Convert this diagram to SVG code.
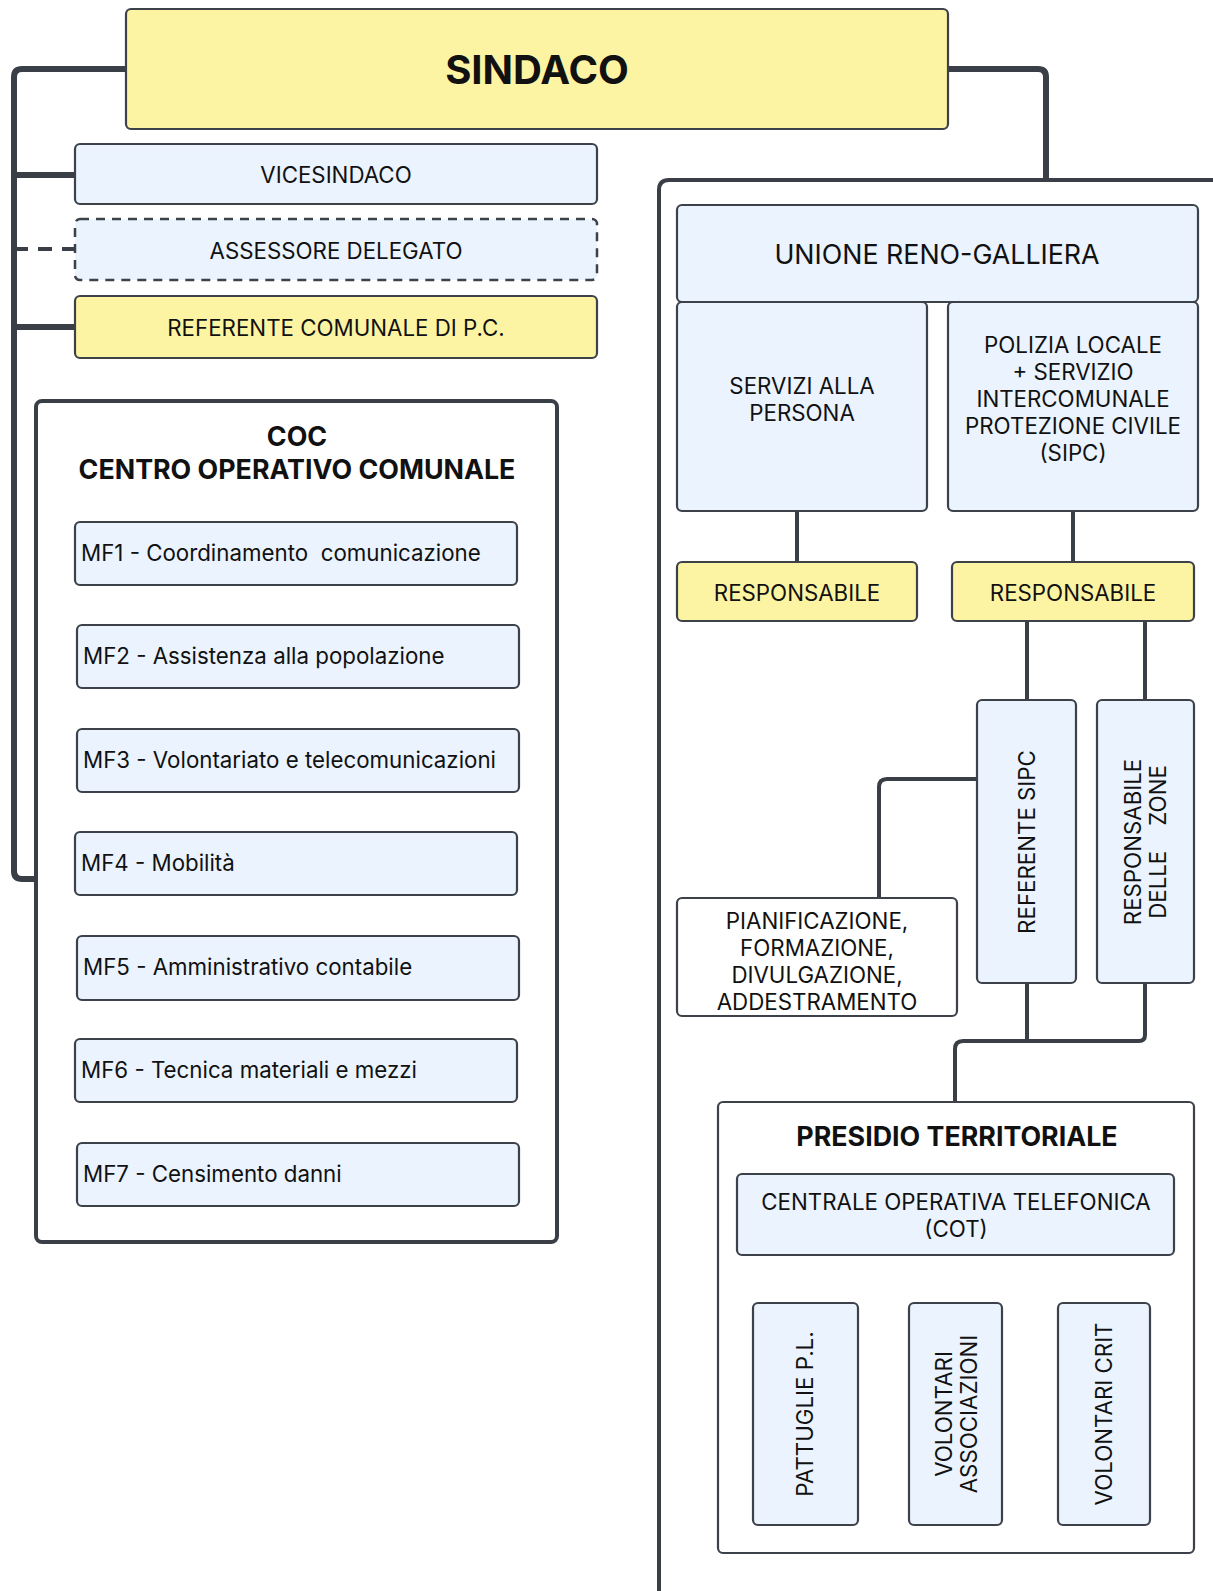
<svg xmlns="http://www.w3.org/2000/svg" width="1213" height="1591" viewBox="0 0 1213 1591">
<style>
text{font-family:Inter,"Noto Sans","Liberation Sans",sans-serif;fill:#111;}
.n{stroke:#3d424a;stroke-width:2.2;}
.y{fill:#fdf4a3;}
.b{fill:#eaf3fe;}
.w{fill:#fff;}
.t{font-size:22.3px;text-anchor:middle;}
.mf{font-size:22.3px;white-space:pre;}
.h{font-size:26.8px;font-weight:700;text-anchor:middle;}
.c{fill:none;stroke:#3a3f47;stroke-width:4;stroke-linejoin:round;}
.ct{fill:none;stroke:#3a3f47;stroke-width:6;stroke-linejoin:round;}
</style>
<rect width="1213" height="1591" fill="#fff"/>
<g id="connectors">
<path class="ct" d="M126 69 H22 Q14 69 14 77 V871 Q14 879 22 879 H36"/>
<path class="ct" d="M14 175 H75"/>
<path class="ct" d="M14 327 H75"/>
<path class="c" d="M14 249 H75" stroke-dasharray="14 10" stroke-width="3"/>
<path class="ct" d="M948 69 H1038 Q1046 69 1046 77 V180"/>
<path class="c" d="M797 511 V562"/>
<path class="c" d="M1073 511 V562"/>
<path class="c" d="M1027 621 V700"/>
<path class="c" d="M1145 621 V700"/>
<path class="c" d="M977 779 H887 Q879 779 879 787 V898"/>
<path class="c" d="M1027 983 V1041"/>
<path class="c" d="M1145 983 V1035 Q1145 1041 1139 1041 H963 Q955 1041 955 1049 V1102"/>
<path class="c" d="M956 1255 V1303"/>
<path class="c" d="M805 1303 V1287 Q805 1279 813 1279 H1095 Q1103 1279 1103 1287 V1303"/>
</g>
<g id="unione-container">
<path d="M1213 180 H669 Q659 180 659 190 V1591" fill="none" stroke="#3a3f47" stroke-width="4"/>
</g>
<g id="sindaco">
<rect class="n y" x="126" y="9" width="822" height="120" rx="5"/>
<text x="537" y="84" style="font-size:40px;font-weight:700;text-anchor:middle">SINDACO</text>
</g>
<g id="vicesindaco">
<rect class="n b" x="75" y="144" width="522" height="60" rx="5"/>
<text class="t" x="336" y="183">VICESINDACO</text>
</g>
<g id="assessore">
<rect class="b" x="75" y="219" width="522" height="61" rx="5" stroke="#3d424a" stroke-width="2.5" stroke-dasharray="9 7"/>
<text class="t" x="336" y="259">ASSESSORE DELEGATO</text>
</g>
<g id="referente-comunale">
<rect class="n y" x="75" y="296" width="522" height="62" rx="5"/>
<text class="t" x="336" y="336">REFERENTE COMUNALE DI P.C.</text>
</g>
<g id="coc">
<rect x="36" y="401" width="521" height="841" rx="6" fill="#fff" stroke="#3a3f47" stroke-width="4"/>
<text class="h" x="297" y="446">COC</text>
<text class="h" x="297" y="479">CENTRO OPERATIVO COMUNALE</text>
</g>
<g id="mf1"><rect class="n b" x="75" y="522" width="442" height="63" rx="5"/><text class="mf" x="81" y="561" xml:space="preserve">MF1 - Coordinamento  comunicazione</text></g>
<g id="mf2"><rect class="n b" x="77" y="625" width="442" height="63" rx="5"/><text class="mf" x="83" y="664">MF2 - Assistenza alla popolazione</text></g>
<g id="mf3"><rect class="n b" x="77" y="729" width="442" height="63" rx="5"/><text class="mf" x="83" y="768">MF3 - Volontariato e telecomunicazioni</text></g>
<g id="mf4"><rect class="n b" x="75" y="832" width="442" height="63" rx="5"/><text class="mf" x="81" y="871">MF4 - Mobilità</text></g>
<g id="mf5"><rect class="n b" x="77" y="936" width="442" height="64" rx="5"/><text class="mf" x="83" y="975">MF5 - Amministrativo contabile</text></g>
<g id="mf6"><rect class="n b" x="75" y="1039" width="442" height="63" rx="5"/><text class="mf" x="81" y="1078">MF6 - Tecnica materiali e mezzi</text></g>
<g id="mf7"><rect class="n b" x="77" y="1143" width="442" height="63" rx="5"/><text class="mf" x="83" y="1182">MF7 - Censimento danni</text></g>
<g id="unione">
<rect class="n b" x="677" y="205" width="521" height="97" rx="5"/>
<text x="937" y="264" style="font-size:26.8px;text-anchor:middle">UNIONE RENO-GALLIERA</text>
</g>
<g id="servizi">
<rect class="n b" x="677" y="302" width="250" height="209" rx="5"/>
<text class="t" x="802" y="394">SERVIZI ALLA</text>
<text class="t" x="802" y="421">PERSONA</text>
</g>
<g id="polizia">
<rect class="n b" x="948" y="302" width="250" height="209" rx="5"/>
<text class="t" x="1073" y="353">POLIZIA LOCALE</text>
<text class="t" x="1073" y="380">+ SERVIZIO</text>
<text class="t" x="1073" y="407">INTERCOMUNALE</text>
<text class="t" x="1073" y="434">PROTEZIONE CIVILE</text>
<text class="t" x="1073" y="461">(SIPC)</text>
</g>
<g id="responsabile1">
<rect class="n y" x="677" y="562" width="240" height="59" rx="5"/>
<text class="t" x="797" y="601">RESPONSABILE</text>
</g>
<g id="responsabile2">
<rect class="n y" x="952" y="562" width="242" height="59" rx="5"/>
<text class="t" x="1073" y="601">RESPONSABILE</text>
</g>
<g id="referente-sipc">
<rect class="n b" x="977" y="700" width="99" height="283" rx="5"/>
<text class="t" transform="translate(1035 842) rotate(-90)">REFERENTE SIPC</text>
</g>
<g id="responsabile-zone">
<rect class="n b" x="1097" y="700" width="97" height="283" rx="5"/>
<text class="t" transform="translate(1141 842) rotate(-90)">RESPONSABILE</text>
<text class="t" transform="translate(1166 842) rotate(-90)" xml:space="preserve">DELLE    ZONE</text>
</g>
<g id="pianificazione">
<rect class="n w" x="677" y="898" width="280" height="118" rx="5"/>
<text class="t" x="817" y="929">PIANIFICAZIONE,</text>
<text class="t" x="817" y="956">FORMAZIONE,</text>
<text class="t" x="817" y="983">DIVULGAZIONE,</text>
<text class="t" x="817" y="1010">ADDESTRAMENTO</text>
</g>
<g id="presidio">
<rect class="n w" x="718" y="1102" width="476" height="451" rx="5"/>
<text class="h" x="957" y="1146">PRESIDIO TERRITORIALE</text>
</g>
<g id="cot">
<rect class="n b" x="737" y="1174" width="437" height="81" rx="5"/>
<text class="t" x="956" y="1210">CENTRALE OPERATIVA TELEFONICA</text>
<text class="t" x="956" y="1237">(COT)</text>
</g>
<g id="pattuglie">
<rect class="n b" x="753" y="1303" width="105" height="222" rx="5"/>
<text class="t" transform="translate(813 1414) rotate(-90)">PATTUGLIE P.L.</text>
</g>
<g id="volontari-associazioni">
<rect class="n b" x="909" y="1303" width="93" height="222" rx="5"/>
<text class="t" transform="translate(952 1414) rotate(-90)">VOLONTARI</text>
<text class="t" transform="translate(977 1414) rotate(-90)">ASSOCIAZIONI</text>
</g>
<g id="volontari-crit">
<rect class="n b" x="1058" y="1303" width="92" height="222" rx="5"/>
<text class="t" transform="translate(1112 1414) rotate(-90)">VOLONTARI CRIT</text>
</g>
</svg>
